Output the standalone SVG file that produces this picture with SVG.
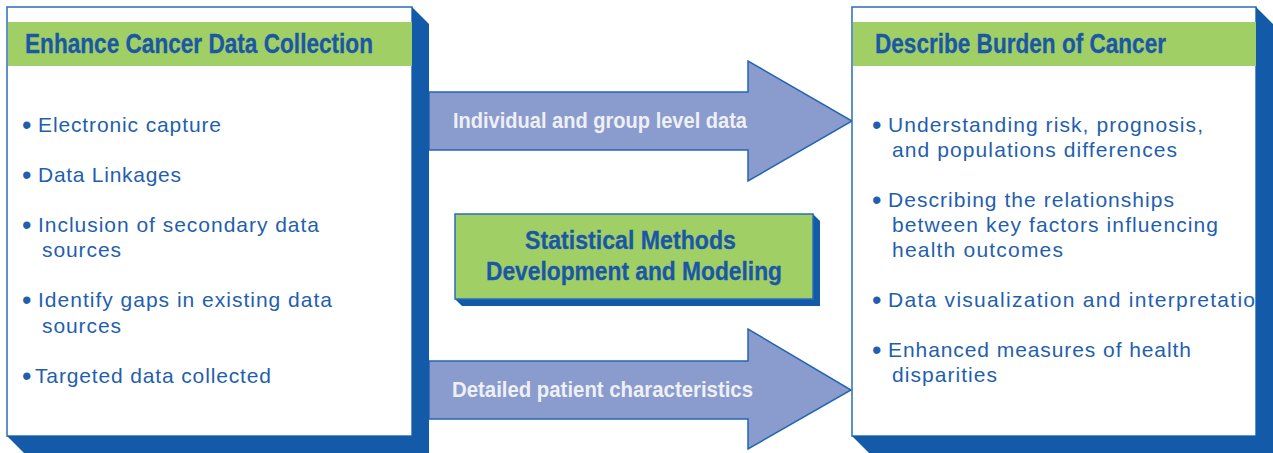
<svg xmlns="http://www.w3.org/2000/svg" width="1273" height="453" viewBox="0 0 1273 453">
<style>
.shadow{fill:#135ba9}
.box{fill:#ffffff;stroke:#2b6cb8;stroke-width:1.5}
.hdr{fill:#a0cf66}
.title{font-family:"Liberation Sans Narrow","Liberation Sans",Arial,sans-serif;font-weight:bold;font-size:27px;fill:#1b57a5;stroke:#1b57a5;stroke-width:0.3}
.mid{font-family:"Liberation Sans Narrow","Liberation Sans",Arial,sans-serif;font-weight:bold;font-size:26px;fill:#1b57a5;stroke:#1b57a5;stroke-width:0.3}
.body{font-family:"Liberation Sans",Arial,sans-serif;font-size:21px;fill:#1f5fae}
.bul{font-size:27px}
.arrow{fill:#8a9bcd;stroke:#2566b3;stroke-width:1.5}
.alabel{font-family:"Liberation Sans Narrow","Liberation Sans",Arial,sans-serif;font-weight:bold;font-size:22px;fill:#eff0f5}
</style>
<g id="connectors">
  <g id="arrow-individual">
    <polygon class="arrow" points="429,92 748,92 748,61 852,121 748,181 748,150 429,150"/>
    <text class="alabel" x="453" y="128" textLength="294" lengthAdjust="spacingAndGlyphs">Individual and group level data</text>
  </g>
  <g id="arrow-detailed">
    <polygon class="arrow" points="429,361 748,361 748,329 851,390 748,449 748,419 429,419"/>
    <text class="alabel" x="452" y="397" textLength="301" lengthAdjust="spacingAndGlyphs">Detailed patient characteristics</text>
  </g>
</g>
<g id="collection">
  <rect class="box" x="7" y="7" width="405" height="429"/>
  <rect class="hdr" x="8" y="22" width="404" height="44"/>
  <text class="title" x="25" y="53" textLength="348" lengthAdjust="spacingAndGlyphs">Enhance Cancer Data Collection</text>
  <g class="body">
    <text class="bul" x="22" y="134">•</text><text x="38" y="132" textLength="183" lengthAdjust="spacing">Electronic capture</text>
    <text class="bul" x="22" y="184">•</text><text x="38" y="182" textLength="143" lengthAdjust="spacing">Data Linkages</text>
    <text class="bul" x="22" y="234">•</text><text x="38" y="232" textLength="281" lengthAdjust="spacing">Inclusion of secondary data</text>
    <text x="42" y="257" textLength="79" lengthAdjust="spacing">sources</text>
    <text class="bul" x="22" y="309">•</text><text x="38" y="307" textLength="294" lengthAdjust="spacing">Identify gaps in existing data</text>
    <text x="42" y="333" textLength="79" lengthAdjust="spacing">sources</text>
    <text class="bul" x="22" y="385">•</text><text x="35" y="383" textLength="236" lengthAdjust="spacing">Targeted data collected</text>
  </g>
  <polygon class="shadow" points="412,7 429,24 429,453 24,453 7,436 412,436"/>
</g>
<g id="statistical">
  <polygon class="shadow" points="813,214 820,221 820,306 462,306 455,299 813,299"/>
  <rect class="hdr" x="455" y="214" width="358" height="85" stroke="#2b6cb8" stroke-width="1.5"/>
  <text class="mid" x="525" y="249" textLength="211" lengthAdjust="spacingAndGlyphs">Statistical Methods</text>
  <text class="mid" x="486" y="280" textLength="296" lengthAdjust="spacingAndGlyphs">Development and Modeling</text>
</g>
<g id="burden">
  <rect class="box" x="852" y="7" width="404" height="429"/>
  <rect class="hdr" x="853" y="22" width="403" height="44"/>
  <text class="title" x="875" y="53" textLength="291" lengthAdjust="spacingAndGlyphs">Describe Burden of Cancer</text>
  <g class="body">
    <text class="bul" x="872" y="134">•</text><text x="888" y="132" textLength="315" lengthAdjust="spacing">Understanding risk, prognosis,</text>
    <text x="892" y="157" textLength="285" lengthAdjust="spacing">and populations differences</text>
    <text class="bul" x="872" y="209">•</text><text x="888" y="207" textLength="286" lengthAdjust="spacing">Describing the relationships</text>
    <text x="892" y="232" textLength="326" lengthAdjust="spacing">between key factors influencing</text>
    <text x="892" y="257" textLength="171" lengthAdjust="spacing">health outcomes</text>
    <text class="bul" x="872" y="309">•</text><text x="888" y="307" textLength="380" lengthAdjust="spacing">Data visualization and interpretation</text>
    <text class="bul" x="872" y="359">•</text><text x="888" y="357" textLength="303" lengthAdjust="spacing">Enhanced measures of health</text>
    <text x="892" y="382" textLength="105" lengthAdjust="spacing">disparities</text>
  </g>
  <polygon class="shadow" points="1256,7 1273,24 1273,453 869,453 852,436 1256,436"/>
</g>
</svg>
